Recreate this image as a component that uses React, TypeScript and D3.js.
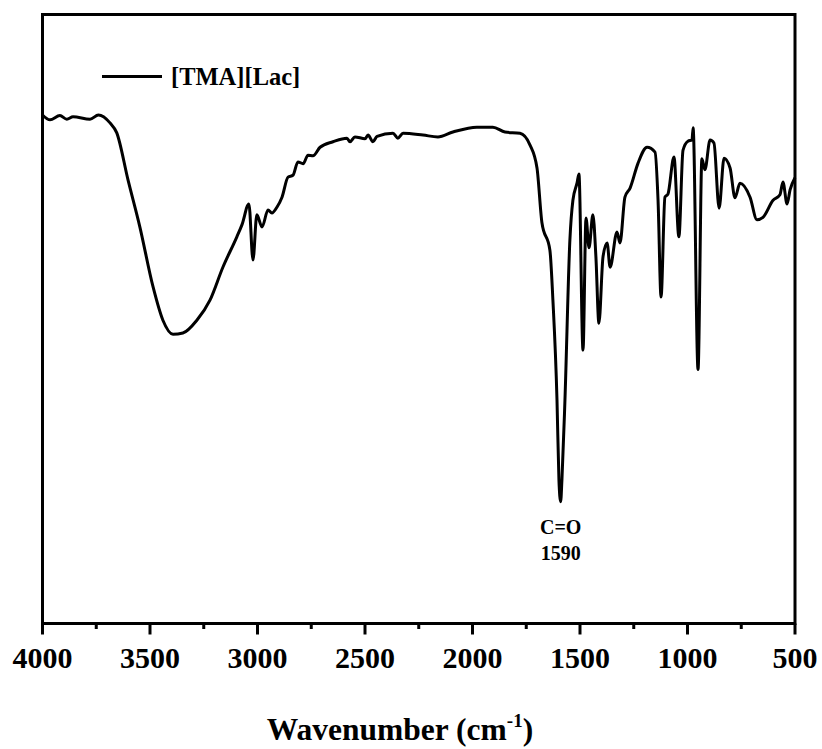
import React from "react";
import * as d3 from "d3";

const wavenumbers = [
  4000, 3965, 3919, 3887, 3858, 3779, 3740, 3686, 3655, 3602, 3547, 3486, 3440, 3393, 3347, 3282,
  3221, 3161, 3096, 3072, 3040, 3021, 3003, 2979, 2951, 2933, 2909, 2886, 2858, 2835, 2812, 2788,
  2765, 2742, 2709, 2649, 2584, 2570, 2547, 2500, 2486, 2463, 2444, 2370, 2347, 2323, 2230, 2161,
  2091, 1980, 1905, 1849, 1779, 1733, 1700, 1677, 1640, 1626, 1607, 1598, 1590, 1584, 1570, 1547,
  1533, 1514, 1505, 1486, 1472, 1458, 1440, 1426, 1412, 1393, 1374, 1360, 1328, 1314, 1291, 1267,
  1230, 1188, 1151, 1137, 1123, 1105, 1091, 1063, 1040, 1021, 998, 979, 974, 951, 933, 919,
  895, 877, 853, 830, 802, 779, 756, 709, 677, 649, 602, 570, 556, 537, 523, 500,
];

const transmittance = [
  83.5, 82.7, 83.4, 82.8, 83.2, 82.8, 83.5, 82.2, 80.6, 72.8, 65.1, 55.3, 49.8, 47.5, 47.7, 49.8,
  53.1, 58.5, 63.5, 65.5, 68.9, 59.7, 67.1, 65.1, 67.9, 67.4, 68.4, 70.0, 73.3, 73.6, 75.8, 75.5,
  76.9, 76.8, 78.2, 79.1, 79.7, 79.1, 79.9, 79.6, 80.2, 79.1, 80.0, 80.5, 79.7, 80.5, 80.2, 79.9,
  80.7, 81.5, 81.5, 80.7, 80.5, 78.6, 74.8, 65.8, 61.3, 53.1, 36.7, 23.6, 20.0, 23.6, 36.7, 63.0,
  69.5, 72.3, 73.8, 44.9, 66.6, 61.7, 67.1, 60.2, 49.3, 60.2, 62.5, 58.5, 64.3, 62.5, 70.0, 71.5,
  75.6, 78.2, 77.4, 69.5, 53.6, 70.0, 70.5, 76.6, 63.5, 77.7, 79.2, 79.4, 81.4, 41.7, 76.3, 74.5,
  79.4, 78.9, 68.2, 76.4, 74.8, 69.9, 72.3, 70.0, 66.3, 66.7, 69.5, 70.4, 72.5, 68.9, 71.2, 73.2,
];

const majorTicks = [4000, 3500, 3000, 2500, 2000, 1500, 1000, 500];
const minorTicks = [3750, 3250, 2750, 2250, 1750, 1250, 750];
const seriesName = "[TMA][Lac]";
const peakLabel = ["C=O", "1590"];
const peakWavenumber = 1590;

export default function App() {
  const W = 822;
  const H = 749;
  const left = 42.5;
  const right = 795;
  const top = 14.5;
  const bottom = 623.5;
  const font = "'Liberation Serif', 'Times New Roman', Times, serif";

  const x = d3.scaleLinear().domain([4000, 500]).range([left, right]);
  const y = d3.scaleLinear().domain([0, 100]).range([bottom, top]);

  const pts = wavenumbers.map((w, i) => [w, transmittance[i]] as [number, number]);
  const line = d3
    .line<[number, number]>()
    .x((d) => x(d[0]))
    .y((d) => y(d[1]))
    .curve(d3.curveMonotoneX);

  const peakIdx = wavenumbers.indexOf(peakWavenumber);
  const peakX = x(peakWavenumber);
  const peakY = y(transmittance[peakIdx]);

  return (
    <svg width={W} height={H} style={{ display: "block", position: "absolute", left: 0, top: 0 }}>
      <rect x={0} y={0} width={W} height={H} fill="#fff" />
      <path d={line(pts) || ""} fill="none" stroke="#000" strokeWidth={3} strokeLinejoin="round" />
      <rect x={left} y={top} width={right - left} height={bottom - top} fill="none" stroke="#000" strokeWidth={3} />
      {majorTicks.map((t) => (
        <line key={"M" + t} x1={x(t)} x2={x(t)} y1={bottom} y2={bottom + 11} stroke="#000" strokeWidth={3} />
      ))}
      {minorTicks.map((t) => (
        <line key={"m" + t} x1={x(t)} x2={x(t)} y1={bottom} y2={bottom + 5.5} stroke="#000" strokeWidth={3} />
      ))}
      {majorTicks.map((t) => (
        <text key={"L" + t} x={x(t)} y={668} textAnchor="middle" fontFamily={font} fontWeight="bold" fontSize={30}>
          {t}
        </text>
      ))}
      <text x={400} y={740} textAnchor="middle" fontFamily={font} fontWeight="bold" fontSize={31.5}>
        <tspan>Wavenumber (cm</tspan>
        <tspan fontSize={19} dy={-13}>-1</tspan>
        <tspan dy={13}>)</tspan>
      </text>
      <line x1={102} x2={162} y1={76.5} y2={76.5} stroke="#000" strokeWidth={3} />
      <text x={171} y={85} fontFamily={font} fontWeight="bold" fontSize={24.5}>
        {seriesName}
      </text>
      <text x={peakX} y={peakY + 32} textAnchor="middle" fontFamily={font} fontWeight="bold" fontSize={20}>
        {peakLabel[0]}
      </text>
      <text x={peakX} y={peakY + 58} textAnchor="middle" fontFamily={font} fontWeight="bold" fontSize={20}>
        {peakLabel[1]}
      </text>
    </svg>
  );
}
